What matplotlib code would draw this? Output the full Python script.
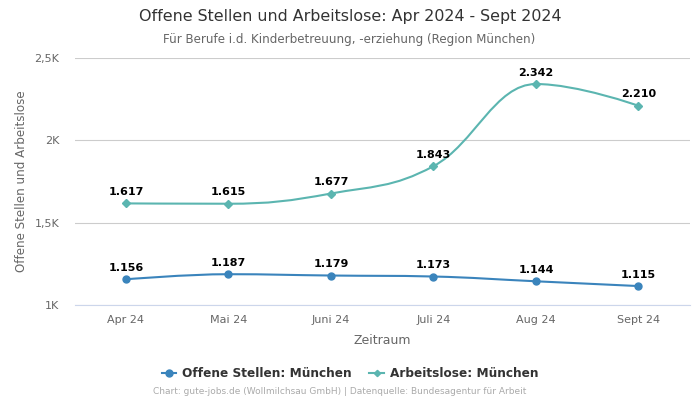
import matplotlib
matplotlib.use('Agg')
import numpy as np
from matplotlib import pyplot as plt
from matplotlib.lines import Line2D
from matplotlib.patches import PathPatch
from matplotlib.path import Path

# Data
months = ['Apr 24', 'Mai 24', 'Juni 24', 'Juli 24', 'Aug 24', 'Sept 24']
offene_stellen = [1156, 1187, 1179, 1173, 1144, 1115]
arbeitslose = [1617, 1615, 1677, 1843, 2342, 2210]
y_ticks = [1000, 1500, 2000, 2500]
y_tick_labels = ['1K', '1,5K', '2K', '2,5K']

color_stellen = '#3a84bc'
color_arbeitslose = '#5bb5b0'
color_grid = '#cccccc'
color_text = '#666666'


def spline_path(x, y, smoothing=1.5):
    # bezier spline through every point, control points flattened at local extremes
    denom = smoothing + 1
    n = len(x)
    left = [None] * n
    right = [None] * n
    for i in range(n):
        if i == 0 or i == n - 1:
            left[i] = (x[i], y[i])
            right[i] = (x[i], y[i])
            continue
        lx = (smoothing * x[i] + x[i - 1]) / denom
        ly = (smoothing * y[i] + y[i - 1]) / denom
        rx = (smoothing * x[i] + x[i + 1]) / denom
        ry = (smoothing * y[i] + y[i + 1]) / denom
        correction = (ry - ly) * (rx - x[i]) / (rx - lx) + y[i] - ry
        ly += correction
        ry += correction
        if ly > y[i - 1] and ly > y[i]:
            ly = max(y[i - 1], y[i])
            ry = 2 * y[i] - ly
        elif ly < y[i - 1] and ly < y[i]:
            ly = min(y[i - 1], y[i])
            ry = 2 * y[i] - ly
        if ry > y[i + 1] and ry > y[i]:
            ry = max(y[i + 1], y[i])
            ly = 2 * y[i] - ry
        elif ry < y[i + 1] and ry < y[i]:
            ry = min(y[i + 1], y[i])
            ly = 2 * y[i] - ry
        left[i] = (lx, ly)
        right[i] = (rx, ry)
    verts = [(x[0], y[0])]
    codes = [Path.MOVETO]
    for i in range(1, n):
        verts += [right[i - 1], left[i], (x[i], y[i])]
        codes += [Path.CURVE4] * 3
    return Path(verts, codes)


def format_value(v):
    return f'{v:,}'.replace(',', '.')


plt.rcParams['font.family'] = 'DejaVu Sans'
fig = plt.figure(figsize=(7, 4), dpi=100)
ax = fig.add_axes([74.7 / 700, 1 - 305 / 400, 615 / 700, 247 / 400])

x = np.arange(len(months))
for values, color, marker, ms in [(offene_stellen, color_stellen, 'o', 5.0),
                                  (arbeitslose, color_arbeitslose, 'D', 3.6)]:
    ax.add_patch(PathPatch(spline_path(x, values), facecolor='none', edgecolor=color, linewidth=1.5, zorder=3))
    ax.plot(x, values, linestyle='none', marker=marker, color=color, markersize=ms, zorder=4)
    for xi, v in zip(x, values):
        ax.annotate(format_value(v), (xi, v), xytext=(0, 4.6), textcoords='offset points', ha='center', va='bottom',
                    fontsize=8, fontweight='bold', color='black', zorder=5)

ax.set_xlim(-0.5, len(months) - 0.5)
ax.set_ylim(1000, 2500)
ax.set_xticks(x)
ax.set_xticklabels(months)
ax.set_yticks(y_ticks)
ax.set_yticklabels(y_tick_labels, va='center_baseline')
ax.grid(axis='y', color=color_grid, linewidth=0.8, zorder=0)
ax.tick_params(axis='x', length=0, labelsize=8, labelcolor=color_text, pad=7.5)
ax.tick_params(axis='y', length=0, labelsize=8, labelcolor=color_text, pad=11)
for side in ['top', 'left', 'right']:
    ax.spines[side].set_visible(False)
ax.spines['bottom'].set_color('#ccd6eb')
ax.spines['bottom'].set_linewidth(0.8)
ax.set_axisbelow(True)

fig.text(350 / 700, 1 - 17 / 400, 'Offene Stellen und Arbeitslose: Apr 2024 - Sept 2024', ha='center', va='center',
         fontsize=11.45, color='#333333')
fig.text(349 / 700, 1 - 39 / 400, 'Für Berufe i.d. Kinderbetreuung, -erziehung (Region München)', ha='center',
         va='center', fontsize=8.6, color=color_text)
fig.text(382 / 700, 1 - 340 / 400, 'Zeitraum', ha='center', va='center', fontsize=9, color=color_text)
fig.text(22 / 700, 1 - 181 / 400, 'Offene Stellen und Arbeitslose', ha='center', va='center', rotation=90,
         fontsize=8.6, color=color_text)
fig.text(339.5 / 700, 1 - 392 / 400, 'Chart: gute-jobs.de (Wollmilchsau GmbH) | Datenquelle: Bundesagentur für Arbeit',
         ha='center', va='center', fontsize=6.45, color='#aaaaaa')

handles = [Line2D([], [], color=color_stellen, marker='o', markersize=5, linewidth=1.5),
           Line2D([], [], color=color_arbeitslose, marker='D', markersize=3.2, linewidth=1.5)]
fig.legend(handles, ['Offene Stellen: München', 'Arbeitslose: München'], loc='center',
           bbox_to_anchor=(350 / 700, 1 - 373.5 / 400), ncol=2, frameon=False, handlelength=1.2, handletextpad=0.5,
           columnspacing=1.45, prop={'size': 8.7, 'weight': 'bold'}, labelcolor='#333333')

fig.savefig('out.png', dpi=100)
